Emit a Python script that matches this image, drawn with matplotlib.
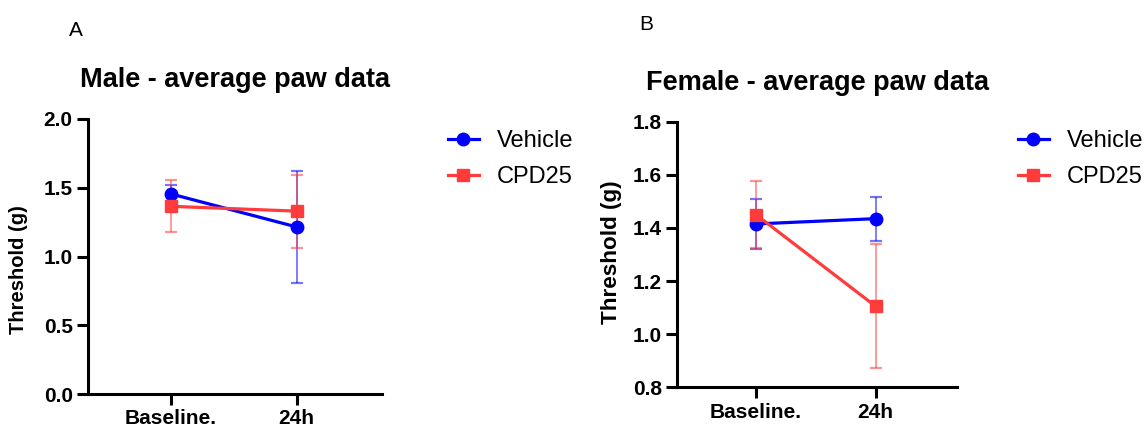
import matplotlib
matplotlib.use("Agg")
import matplotlib.pyplot as plt

plt.rcParams['font.family'] = ['Liberation Sans', 'DejaVu Sans']

timepoints = ["Baseline.", "24h"]
groups = ["Vehicle", "CPD25"]

# Male panel: means and error bar half-widths
male_vehicle = [1.455, 1.215]
male_vehicle_err = [0.065, 0.41]
male_cpd25 = [1.365, 1.33]
male_cpd25_err = [0.19, 0.265]

# Female panel
female_vehicle = [1.415, 1.435]
female_vehicle_err = [0.095, 0.083]
female_cpd25 = [1.45, 1.105]
female_cpd25_err = [0.125, 0.233]

colors = {"Vehicle": "#0000ff", "CPD25": "#ff3b3b"}
markers = {"Vehicle": "o", "CPD25": "s"}

W, H = 1144, 432


def draw_panel(fig, rect, title, series, ylim, yticks, ylabel_size, ylabel_xy,
               letter, letter_xy, legend_xy):
    ax = fig.add_axes(rect)
    x = range(len(timepoints))
    for name, vals, err in series:
        c = colors[name]
        ax.errorbar(x, vals, yerr=err, fmt='none', ecolor=c, alpha=0.55,
                    elinewidth=1.3, capsize=4.6, capthick=1.6, zorder=2)
        ax.plot(x, vals, color=c, lw=2.3, marker=markers[name], ms=9,
                label=name, zorder=3)

    ax.set_xlim(-0.66, 1.68)
    ax.set_ylim(*ylim)
    ax.set_yticks(yticks)
    ax.set_yticklabels(["%.1f" % t for t in yticks], fontsize=15, fontweight='bold')
    ax.set_xticks(list(x))
    ax.set_xticklabels(timepoints, fontsize=15, fontweight='bold')
    ax.set_ylabel("Threshold (g)", fontsize=ylabel_size, fontweight='bold')
    ax.yaxis.set_label_coords(*ylabel_xy)  # label sits a bit off-centre in the original
    ax.set_title(title, fontsize=19.5, fontweight='bold', pad=23)

    for s in ['top', 'right']:
        ax.spines[s].set_visible(False)
    for s in ['left', 'bottom']:
        ax.spines[s].set_linewidth(2.2)
    ax.tick_params(width=2.2, length=8, direction='out', pad=3)

    fig.text(letter_xy[0] / W, 1 - letter_xy[1] / H, letter, fontsize=15,
             ha='center', va='center')

    ax.legend(loc='upper left', bbox_to_anchor=(legend_xy[0] / W, 1 - legend_xy[1] / H),
              bbox_transform=fig.transFigure, frameon=False, fontsize=17,
              handlelength=1.3, handletextpad=0.75, labelspacing=0.6,
              borderpad=0, borderaxespad=0)
    return ax


fig = plt.figure(figsize=(W / 100, H / 100), dpi=100)

draw_panel(fig, [88 / W, 38 / H, 294 / W, 275 / H], "Male - average paw data",
           [("Vehicle", male_vehicle, male_vehicle_err),
            ("CPD25", male_cpd25, male_cpd25_err)],
           (0, 2.0), [0.0, 0.5, 1.0, 1.5, 2.0], 14.5, (-0.205, 0.451),
           "A", (76, 30), (448, 130))

draw_panel(fig, [677 / W, 44.7 / H, 280 / W, 265.6 / H], "Female - average paw data",
           [("Vehicle", female_vehicle, female_vehicle_err),
            ("CPD25", female_cpd25, female_cpd25_err)],
           (0.8, 1.8), [0.8, 1.0, 1.2, 1.4, 1.6, 1.8], 16.2, (-0.198, 0.507),
           "B", (646, 25), (1018, 130))

plt.savefig("out.png", dpi=100)
